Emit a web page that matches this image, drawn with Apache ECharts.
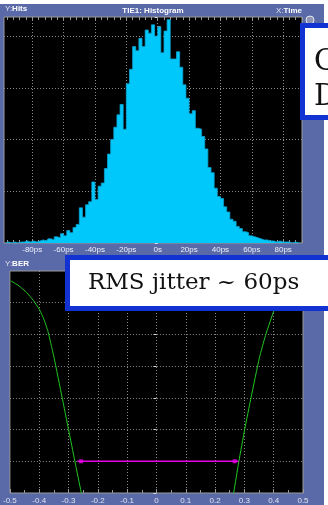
<!DOCTYPE html>
<html>
<head>
<meta charset="utf-8">
<script src="https://cdn.jsdelivr.net/npm/echarts@6/dist/echarts.min.js"></script>
<style>
  html, body { margin: 0; padding: 0; background: #ffffff; }
  #chart { width: 328px; height: 505px; }
</style>
</head>
<body>
<div id="chart"></div>
<script>
// TIE1 histogram: 2 ps bins, centre of each bin (ps)
const binCenters = [
  -97, -95, -93, -91, -89, -87, -85, -83, -81, -79,
  -77, -75, -73, -71, -69, -67, -65, -63, -61, -59,
  -57, -55, -53, -51, -49, -47, -45, -43, -41, -39,
  -37, -35, -33, -31, -29, -27, -25, -23, -21, -19,
  -17, -15, -13, -11, -9, -7, -5, -3, -1, 1,
  3, 5, 7, 9, 11, 13, 15, 17, 19, 21,
  23, 25, 27, 29, 31, 33, 35, 37, 39, 41,
  43, 45, 47, 49, 51, 53, 55, 57, 59, 61,
  63, 65, 67, 69, 71, 73, 75, 77, 79, 81,
  83, 85, 87, 89, 91
];
// hits per bin
const hits = [
  0, 1, 0, 1, 0, 1, 1, 2, 1, 2,
  1, 2, 3, 2, 4, 3, 6, 5, 9, 7,
  12, 10, 15, 18, 34, 25, 37, 40, 59, 42,
  55, 58, 72, 86, 100, 112, 124, 134, 110, 154,
  168, 190, 186, 198, 190, 206, 203, 211, 200, 209,
  184, 205, 216, 178, 178, 185, 170, 153, 140, 125,
  128, 111, 110, 103, 91, 73, 68, 53, 45, 43,
  35, 30, 23, 21, 16, 14, 11, 10, 7, 6,
  5, 4, 3, 3, 2, 2, 1, 2, 1, 1,
  1, 0, 1, 0, 0
];
const timeTicks = [-80, -60, -40, -20, 0, 20, 40, 60, 80];
const timeTickLabels = ['-80ps', '-60ps', '-40ps', '-20ps', '0s', '20ps', '40ps', '60ps', '80ps'];

// Bathtub curve: BER against sampling position (UI)
const leftUI = [-0.497, -0.47, -0.443, -0.42, -0.40, -0.383, -0.37, -0.358, -0.349, -0.322, -0.30, -0.278, -0.257, -0.252];
const leftBER = [2.42e-1, 1.19e-1, 4.4e-2, 1.41e-2, 3.94e-3, 8.24e-4, 1.5e-4, 1.78e-5, 3.24e-6, 1.11e-8, 1.02e-10, 9.42e-13, 1.15e-14, 3.7e-15];
const rightUI = [0.26, 0.264, 0.281, 0.301, 0.323, 0.351, 0.372, 0.407, 0.443, 0.47, 0.497];
const rightBER = [3.7e-15, 1.15e-14, 9.4e-13, 1.02e-10, 1.1e-8, 3.24e-6, 8.5e-5, 6.0e-3, 4.4e-2, 1.19e-1, 2.42e-1];
const eyeLineUI = [-0.27, 0.28];
const eyeMarkerUI = [-0.257, 0.267];
const berTarget = 1e-12;
const uiTickLabels = ['-0.5', '-0.4', '-0.3', '-0.2', '-0.1', '0', '0.1', '0.2', '0.3', '0.4', '0.5'];

// fine graticule marks along the histogram borders
const timeMinorTicks = [];
for (let t = -96; t <= 92; t += 4) timeMinorTicks.push(t);
const hitsMinorTicks = [];
for (let h = 10; h <= 210; h += 10) hitsMinorTicks.push(h);

const FRAME = '#5a6aa8';
const BORDER = '#9a9a9a';
const BOX_BLUE = '#1232d2';
const HIST = '#00c8fa';
const dotted = { color: '#8a8a8a', type: [1, 2], width: 1 };
const SANS = '"Liberation Sans", Arial, sans-serif';
const SERIF = '"DejaVu Serif", serif';

const zip = (xs, ys) => xs.map((x, i) => [x, ys[i]]);

const chart = echarts.init(document.getElementById('chart'), null, { renderer: 'canvas' });

const borderTickAxis = (pos) => ({
  type: 'value', gridIndex: 0, min: -98, max: 92, position: pos,
  axisLine: { show: false }, axisLabel: { show: false },
  axisTick: { show: true, inside: true, length: 3, customValues: timeMinorTicks, lineStyle: { color: BORDER } },
  splitLine: { show: false }
});

chart.setOption({
  backgroundColor: FRAME,
  animation: false,
  grid: [
    { left: 4, top: 17, width: 298, height: 226, show: true, backgroundColor: '#000000', borderColor: BORDER, borderWidth: 1 },
    { left: 3, top: 271, width: 300, height: 227, show: true, backgroundColor: '#000000', borderColor: BORDER, borderWidth: 1 }
  ],
  xAxis: [
    { type: 'category', gridIndex: 0, data: binCenters, show: false, boundaryGap: true },
    {
      type: 'value', gridIndex: 0, min: -98, max: 92, position: 'bottom',
      axisLine: { show: false },
      axisTick: { show: false, customValues: timeTicks },
      axisLabel: {
        customValues: timeTicks,
        formatter: (v) => timeTickLabels[timeTicks.indexOf(v)],
        color: '#eef0f8', fontSize: 8, fontFamily: SANS, margin: 3
      },
      splitLine: { show: true, lineStyle: dotted }
    },
    borderTickAxis('top'),
    borderTickAxis('bottom'),
    {
      type: 'value', gridIndex: 1, min: -0.5, max: 0.5, interval: 0.1,
      axisLine: { show: false },
      axisTick: { show: true, inside: true, length: 4, lineStyle: { color: BORDER } },
      minorTick: { show: true, splitNumber: 2, length: 3, lineStyle: { color: BORDER } },
      axisLabel: {
        formatter: (v) => uiTickLabels[Math.round((v + 0.5) * 10)],
        color: '#dfe3f0', fontSize: 8, fontFamily: SANS, margin: 4
      },
      splitLine: { show: true, showMinLine: false, showMaxLine: false, lineStyle: dotted }
    }
  ],
  yAxis: [
    {
      type: 'value', gridIndex: 0, min: 0, max: 218.6, interval: 50,
      axisLine: { show: false }, axisLabel: { show: false },
      axisTick: { show: true, length: 3, lineStyle: { color: '#d8dce8' } },
      splitLine: { show: true, showMinLine: false, showMaxLine: false, lineStyle: dotted }
    },
    {
      type: 'value', gridIndex: 0, min: 0, max: 218.6, position: 'left',
      axisLine: { show: false }, axisLabel: { show: false },
      axisTick: { show: true, inside: true, length: 3, customValues: hitsMinorTicks, lineStyle: { color: BORDER } },
      splitLine: { show: false }
    },
    {
      type: 'log', gridIndex: 1, logBase: 100, min: 1e-14, max: 1,
      axisLine: { show: false }, axisLabel: { show: false },
      axisTick: { show: true, length: 3, lineStyle: { color: '#d8dce8' } },
      splitLine: { show: true, showMinLine: false, showMaxLine: false, lineStyle: dotted }
    }
  ],
  series: [
    {
      // histogram drawn as a filled step outline so neighbouring bins join seamlessly
      type: 'line', step: 'middle', xAxisIndex: 0, yAxisIndex: 0, data: hits,
      showSymbol: false, silent: true, z: 3,
      lineStyle: { color: '#0aa2d2', width: 0.8 },
      areaStyle: { color: HIST, opacity: 1 }
    },
    {
      type: 'line', xAxisIndex: 4, yAxisIndex: 2, data: zip(leftUI, leftBER),
      smooth: 0.15, showSymbol: false, clip: true,
      lineStyle: { color: '#20c820', width: 1 }
    },
    {
      type: 'line', xAxisIndex: 4, yAxisIndex: 2, data: zip(rightUI, rightBER),
      smooth: 0.15, showSymbol: false, clip: true,
      lineStyle: { color: '#20c820', width: 1 }
    },
    {
      type: 'line', xAxisIndex: 4, yAxisIndex: 2,
      data: eyeLineUI.map((u) => [u, berTarget]),
      showSymbol: false, lineStyle: { color: '#e800e8', width: 1.5 }
    },
    {
      type: 'scatter', xAxisIndex: 4, yAxisIndex: 2,
      data: eyeMarkerUI.map((u) => [u, berTarget]),
      symbol: 'rect', symbolSize: 4, itemStyle: { color: '#e800e8' }
    }
  ],
  graphic: [
    // panel headers
    { type: 'text', left: 5, top: 5, z: 50,
      style: { text: '{a|Y:}{b|Hits}', rich: {
        a: { fill: '#dfe3f0', font: '8px ' + SANS },
        b: { fill: '#ffffff', font: 'bold 8px ' + SANS } } } },
    { type: 'text', x: 153, y: 11, z: 50,
      style: { text: 'TIE1: Histogram', fill: '#ffffff', font: 'bold 8px ' + SANS, align: 'center', verticalAlign: 'middle' } },
    { type: 'text', x: 302, y: 11, z: 50,
      style: { text: '{a|X:}{b|Time}', align: 'right', verticalAlign: 'middle', rich: {
        a: { fill: '#dfe3f0', font: '8px ' + SANS },
        b: { fill: '#ffffff', font: 'bold 8px ' + SANS } } } },
    { type: 'text', left: 5, top: 260, z: 50,
      style: { text: '{a|Y:}{b|BER}', rich: {
        a: { fill: '#dfe3f0', font: '8px ' + SANS },
        b: { fill: '#ffffff', font: 'bold 8px ' + SANS } } } },
    // page margins
    { type: 'rect', z: 60, shape: { x: 0, y: 0, width: 328, height: 4 }, style: { fill: '#ffffff' } },
    { type: 'rect', z: 60, shape: { x: 324, y: 0, width: 4, height: 505 }, style: { fill: '#ffffff' } },
    // window button
    { type: 'circle', z: 61, shape: { cx: 310, cy: 20, r: 4 }, style: { fill: '#8e95b4', stroke: '#e4e7f0', lineWidth: 1 } },
    // annotation boxes
    { type: 'rect', z: 100, shape: { x: 302.5, y: 25.5, width: 60, height: 92 },
      style: { fill: '#ffffff', stroke: BOX_BLUE, lineWidth: 5 } },
    { type: 'text', z: 101, x: 314, y: 62,
      style: { text: 'Gaussian', fill: '#111111', font: '29px ' + SERIF, verticalAlign: 'middle' } },
    { type: 'text', z: 101, x: 314, y: 97,
      style: { text: 'Distribution', fill: '#111111', font: '29px ' + SERIF, verticalAlign: 'middle' } },
    { type: 'rect', z: 100, shape: { x: 67.5, y: 257.5, width: 300, height: 51 },
      style: { fill: '#ffffff', stroke: BOX_BLUE, lineWidth: 5 } },
    { type: 'text', z: 101, x: 88, y: 283,
      style: { text: 'RMS jitter ~ 60ps', fill: '#111111', font: '23px ' + SERIF, verticalAlign: 'middle' } }
  ]
});
</script>
</body>
</html>
